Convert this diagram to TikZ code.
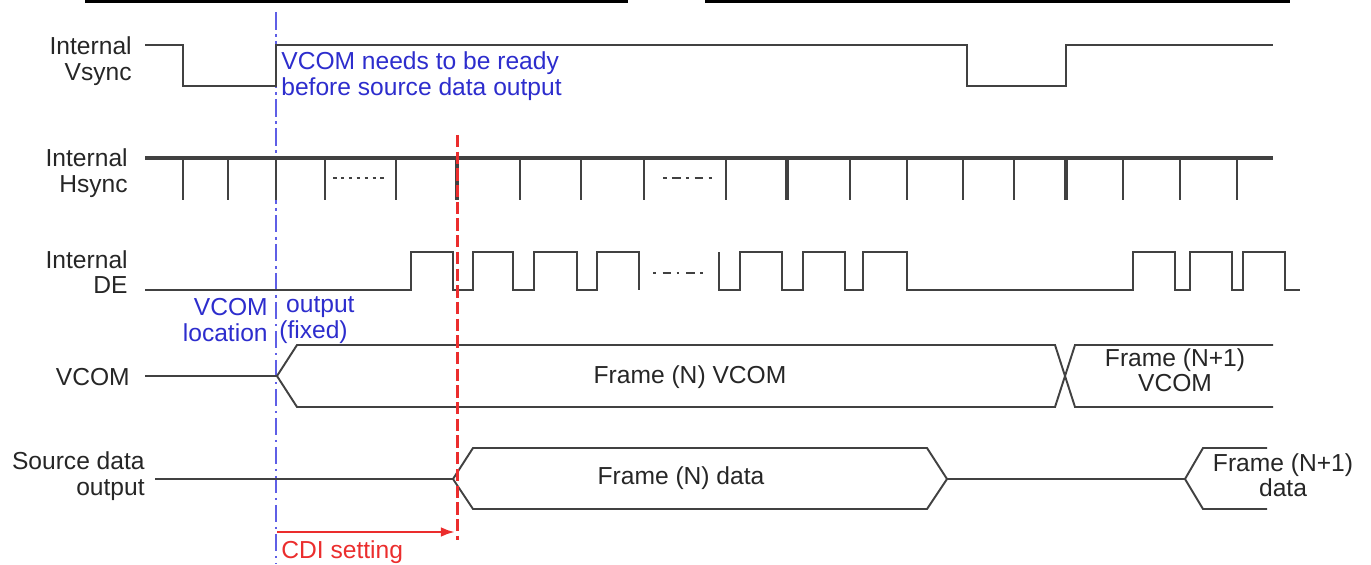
\documentclass[tikz,border=0pt]{standalone}
\usepackage{fontspec}
\setmainfont{Liberation Sans}
\usetikzlibrary{arrows,arrows.meta}

\definecolor{wavegray}{RGB}{65,65,65}
\definecolor{noteblue}{RGB}{45,45,205}
\definecolor{markblue}{RGB}{95,95,230}
\definecolor{markred}{RGB}{235,45,45}

\tikzset{
  sig/.style={draw=wavegray, line width=1.1pt},
  tick/.style={draw=wavegray, line width=1.1pt},
  lbl/.style={anchor=east, align=right, inner sep=0pt, text=black!85,
    font=\fontsize{14}{14.4}\selectfont},
  txt/.style={align=center, inner sep=0pt, text=black!85,
    font=\fontsize{14}{14.4}\selectfont},
  note/.style={inner sep=0pt, text=noteblue, font=\fontsize{14}{14.4}\selectfont},
}

\begin{document}
\begin{tikzpicture}[x=0.02cm, y=-0.02cm]
  \useasboundingbox (0,0) rectangle (1371,564);

	% bars cut from the page
	\draw[line width=2pt] (85,1.7) -- (628,1.7);
	\draw[line width=2pt] (705,1.7) -- (1290,1.7);

	% VCOM location
	\draw[markblue, line width=1.1pt, dash pattern=on 10pt off 2.5pt on 1.5pt off 2.5pt] (276,12) -- (276,564);

	% signals
	\draw[sig] (145,45) -- (183,45) -- (183,86) -- (276,86) -- (276,45) -- (967,45)
	  -- (967,86) -- (1066,86) -- (1066,45) -- (1273,45);

	\draw[sig, line width=1.9pt] (145,158) -- (1273,158);
	\draw[tick] (183,158) -- (183,200) (228,158) -- (228,200) (276,158) -- (276,200)
	  (325,158) -- (325,200) (396,158) -- (396,200) (520,158) -- (520,200)
	  (581,158) -- (581,200) (644,158) -- (644,200) (726,158) -- (726,200)
	  (850,158) -- (850,200) (907,158) -- (907,200) (963,158) -- (963,200)
	  (1014,158) -- (1014,200) (1123,158) -- (1123,200) (1180,158) -- (1180,200)
	  (1237,158) -- (1237,200);
	\draw[tick, line width=1.8pt] (457,158) -- (457,200) (787,158) -- (787,200)
	  (1066,158) -- (1066,200);
	\draw[wavegray, line width=1.4pt, dash pattern=on 2pt off 2.5pt] (333,178) -- (387,178);
	\draw[wavegray, line width=1.4pt, dash pattern=on 2pt off 3pt on 5pt off 3pt] (663,178) -- (717,178);

	\draw[sig] (145,290) -- (411,290) -- (411,252) -- (453,252) -- (453,290) -- (473,290)
	  -- (473,252) -- (513,252) -- (513,290) -- (534,290) -- (534,252) -- (577,252)
	  -- (577,290) -- (597,290) -- (597,252) -- (639,252) -- (639,290);
	\draw[sig] (719,252) -- (719,290) -- (740,290) -- (740,252) -- (782,252) -- (782,290)
	  -- (803,290) -- (803,252) -- (845,252) -- (845,290) -- (863,290) -- (863,252)
	  -- (907,252) -- (907,290) -- (1133,290) -- (1133,252) -- (1175,252) -- (1175,290)
	  -- (1190,290) -- (1190,252) -- (1232,252) -- (1232,290) -- (1243,290) -- (1243,252)
	  -- (1285,252) -- (1285,290) -- (1300,290);
	\draw[wavegray, line width=1.2pt, dash pattern=on 1.5pt off 4pt on 5pt off 3pt] (653,273) -- (707,273);

	\draw[sig] (145,376) -- (277,376) -- (297,345) -- (1055,345) -- (1075,407) -- (1273,407);
	\draw[sig] (277,376) -- (297,407) -- (1055,407) -- (1075,345) -- (1273,345);

	\draw[sig] (155,479) -- (453,479) -- (473,448) -- (927,448) -- (947,479) -- (1185,479)
	  -- (1203,448) -- (1267,448);
	\draw[sig] (453,479) -- (473,509) -- (927,509) -- (947,479);
	\draw[sig] (1185,479) -- (1203,509) -- (1267,509);

	% CDI
	\draw[markred, line width=1.7pt, dash pattern=on 7pt off 2.5pt] (457,135) -- (457,540);
	\coordinate (cdiStart) at (277,532);
	\coordinate (cdiEnd) at (455,532);
	\draw[markred, line width=1.4pt, -{Latex[length=8pt,width=5.5pt]}] (cdiStart) -- (cdiEnd);

	% labels
	\node[lbl] (vsyncLbl) at (132,61) {Internal\\Vsync};
	\node[lbl] (hsyncLbl) at (128,173) {Internal\\Hsync};
	\node[lbl] (deLbl) at (128,272) {Internal\\DE};
	\node[lbl] (vcomLbl) at (130,377) {VCOM};
	\node[lbl] (srcLbl) at (145,476) {Source data\\output};

	\node[note, anchor=west, align=left] (readyNote) at (281,76) {VCOM needs to be ready\\before source data output};
	\node[note, anchor=east, align=right] (locNote) at (268,320) {VCOM\\location};
	\node[note, anchor=west, align=left] (fixedNote) at (279,320) {\ output\\(fixed)};

	\node[txt] (frameVcom) at (690,377) {Frame (N) VCOM};
	\node[txt] (nextVcom) at (1175,370) {Frame (N+1)\\VCOM};
	\node[txt] (frameData) at (681,478) {Frame (N) data};
	\node[txt] (nextData) at (1283,475) {Frame (N+1)\\data};

	\node[inner sep=0pt, anchor=west, text=markred, font=\fontsize{14}{14.4}\selectfont] (cdiLbl) at (281,552) {CDI setting};
    \end{tikzpicture}
\end{document}
